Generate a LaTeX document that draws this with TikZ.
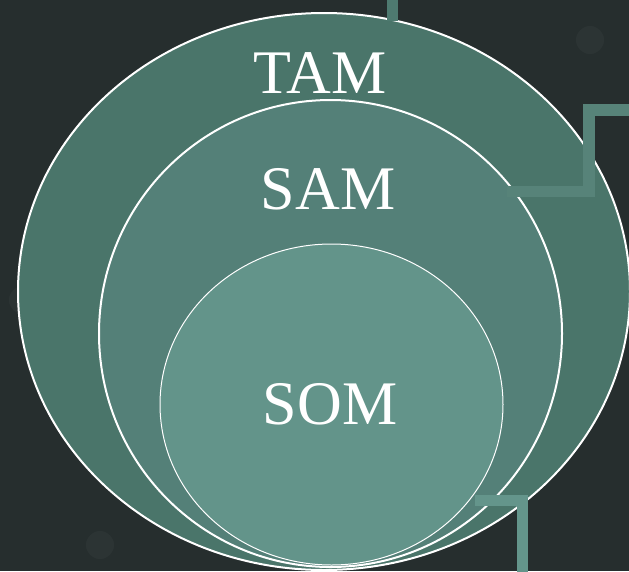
\documentclass[tikz,border=0pt]{standalone}
\usepackage{fontspec}
\setmainfont{Liberation Serif}
\usetikzlibrary{shapes.geometric}
\definecolor{bgc}{HTML}{262E2E}
\definecolor{outerc}{HTML}{4A756A}
\definecolor{midc}{HTML}{548078}
\definecolor{innerc}{HTML}{63948A}
\definecolor{barA}{HTML}{4E7A70}
\definecolor{barB}{HTML}{578379}
\definecolor{barC}{HTML}{64958B}
\tikzset{
  ring/.style={ellipse, draw=white, inner sep=0pt},
  bar/.style={line width=11.5pt, line join=miter, line cap=butt},
  lbl/.style={text=white, font=\fontsize{62}{62}\selectfont, anchor=base, inner sep=0pt}
}
\begin{document}
\begin{tikzpicture}[x=1pt, y=-1pt]
\useasboundingbox (0,0) rectangle (629,571);
\fill[bgc] (0,0) rectangle (629,571);
% faint background texture
\fill[white, opacity=0.03] (23,300) circle (14);
\fill[white, opacity=0.03] (100,545) circle (14);
\fill[white, opacity=0.03] (590,40) circle (14);
\node[ring, line width=2pt, fill=outerc, minimum width=612pt, minimum height=557pt] (tam) at (324,291.5) {};
\coordinate (a1) at (392.5,-2);
\coordinate (a2) at (392.5,21);
\draw[bar, barA] (a1) -- (a2);
\node[ring, line width=2pt, fill=midc, minimum width=463pt, minimum height=467pt] (sam) at (330.5,333.5) {};
\coordinate (b1) at (507,191.5);
\coordinate (b2) at (589,191.5);
\coordinate (b3) at (589,110);
\coordinate (b4) at (632,110);
\draw[bar, barB] (b1) -- (b2) -- (b3) -- (b4);
\node[ring, line width=1pt, fill=innerc, minimum width=343pt, minimum height=321pt] (som) at (331.5,404.5) {};
\coordinate (c1) at (475,500.5);
\coordinate (c2) at (522.5,500.5);
\coordinate (c3) at (522.5,574);
\draw[bar, barC] (c1) -- (c2) -- (c3);
\node[lbl] (ttam) at (320,93) {TAM};
\node[lbl] (tsam) at (328,209) {SAM};
\node[lbl] (tsom) at (330,424) {SOM};
\end{tikzpicture}
\end{document}
